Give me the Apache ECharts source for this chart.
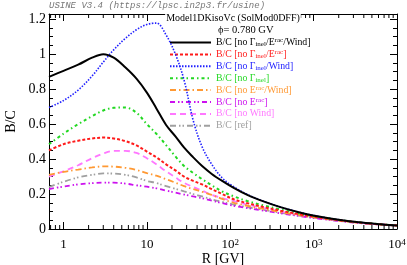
<!DOCTYPE html>
<html><head><meta charset="utf-8">
<script src="https://cdn.jsdelivr.net/npm/echarts@6/dist/echarts.min.js"></script>
<style>html,body{margin:0;padding:0;background:#fff}#c{width:407px;height:265px}</style>
</head><body><div id="c"></div>
<script>
// Rigidity R [GV]
const rigidity = [0.67, 1, 1.5, 2.2, 3, 4, 5.5, 7.5, 10, 13, 17, 22, 28, 36, 46, 60, 80, 110, 160, 250, 400, 700, 1200, 2000, 3500, 6000, 10000];
// B/C ratios
const bcNoInelRacWind = [0.87, 0.905, 0.94, 0.98, 1.0, 0.98, 0.925, 0.86, 0.78, 0.69, 0.595, 0.53, 0.465, 0.41, 0.36, 0.315, 0.275, 0.235, 0.195, 0.158, 0.125, 0.093, 0.07, 0.053, 0.038, 0.028, 0.02];
const bcNoInelRac = [0.45, 0.485, 0.505, 0.518, 0.523, 0.518, 0.503, 0.478, 0.443, 0.41, 0.37, 0.335, 0.30, 0.275, 0.255, 0.228, 0.2, 0.17, 0.148, 0.126, 0.105, 0.083, 0.065, 0.05, 0.037, 0.027, 0.02];
const bcNoInelWind = [0.695, 0.735, 0.795, 0.875, 0.955, 1.025, 1.09, 1.14, 1.17, 1.178, 1.11, 1.0, 0.85, 0.62, 0.47, 0.37, 0.292, 0.242, 0.198, 0.159, 0.126, 0.094, 0.07, 0.053, 0.038, 0.028, 0.02];
const bcNoInel = [0.485, 0.545, 0.60, 0.645, 0.678, 0.693, 0.695, 0.665, 0.60, 0.545, 0.48, 0.415, 0.36, 0.32, 0.285, 0.25, 0.215, 0.187, 0.16, 0.135, 0.112, 0.087, 0.068, 0.052, 0.038, 0.028, 0.02];
const bcNoRacWind = [0.31, 0.327, 0.34, 0.352, 0.358, 0.357, 0.35, 0.338, 0.32, 0.305, 0.285, 0.265, 0.245, 0.228, 0.213, 0.195, 0.172, 0.15, 0.133, 0.115, 0.097, 0.078, 0.062, 0.048, 0.036, 0.027, 0.02];
const bcNoRac = [0.228, 0.243, 0.255, 0.262, 0.265, 0.265, 0.26, 0.25, 0.242, 0.233, 0.22, 0.208, 0.197, 0.186, 0.176, 0.162, 0.148, 0.133, 0.12, 0.105, 0.09, 0.073, 0.058, 0.046, 0.034, 0.026, 0.019];
const bcNoWind = [0.30, 0.33, 0.365, 0.405, 0.432, 0.447, 0.447, 0.435, 0.405, 0.37, 0.33, 0.295, 0.264, 0.24, 0.22, 0.195, 0.177, 0.16, 0.14, 0.12, 0.1, 0.08, 0.063, 0.049, 0.036, 0.027, 0.02];
const bcRef = [0.24, 0.27, 0.295, 0.31, 0.318, 0.317, 0.31, 0.295, 0.275, 0.263, 0.245, 0.23, 0.215, 0.2, 0.186, 0.17, 0.155, 0.14, 0.125, 0.109, 0.093, 0.075, 0.06, 0.047, 0.035, 0.026, 0.02];

const seriesNames = ['B/C [no Γinel/Erac/Wind]', 'B/C [no Γinel/Erac]', 'B/C [no Γinel/Wind]', 'B/C [no Γinel]', 'B/C [no Erac/Wind]', 'B/C [no Erac]', 'B/C [no Wind]', 'B/C [ref]'];
const seriesRich = ['B/C [no Γ{sub|inel}/E{sup|rac}/Wind]', 'B/C [no Γ{sub|inel}/E{sup|rac}]', 'B/C [no Γ{sub|inel}/Wind]', 'B/C [no Γ{sub|inel}]', 'B/C [no E{sup|rac}/Wind]', 'B/C [no E{sup|rac}]', 'B/C [no Wind]', 'B/C [ref]'];
const seriesValues = [bcNoInelRacWind, bcNoInelRac, bcNoInelWind, bcNoInel, bcNoRacWind, bcNoRac, bcNoWind, bcRef];
const seriesColors = ['#000000', '#ff1a1a', '#2020ff', '#22d822', '#ff9933', '#cc11ee', '#ff77ff', '#a0a0a0'];
const seriesDash = ['solid', [3, 2], [1.5, 1.5], [3, 3, 1.5, 3], [6, 3, 1.5, 3], [5, 3, 1.5, 2, 1.5, 3], [6, 4], [6, 3, 1.5, 2, 1.5, 3]];
const seriesWidth = [2, 2, 1.6, 2, 1.8, 1.8, 1.8, 1.8];

const xMin = 0.67, xMax = 10000, yMin = 0, yMax = 1.23;
const FONT = 'Liberation Serif';

const minorX = [];
for (let e = -1; e < 4; e++) for (let m = 2; m <= 9; m++) { const v = m * Math.pow(10, e); if (v > xMin && v < xMax) minorX.push([v, 0]); }

function isPow10(v) { const l = Math.log10(v); return Math.abs(l - Math.round(l)) < 1e-6; }
function xLabel(v) {
  if (!isPow10(v)) return '';
  const e = Math.round(Math.log10(v));
  if (e === 0) return '1';
  if (e === 1) return '10';
  return '10{sup|' + e + '}';
}

const chart = echarts.init(document.getElementById('c'), null, { renderer: 'canvas' });

const lineSeries = seriesNames.map((n, i) => ({
  name: n, type: 'line', xAxisIndex: 0, yAxisIndex: 0,
  data: rigidity.map((r, k) => [r, seriesValues[i][k]]),
  showSymbol: false, symbol: 'none', smooth: 0.35,
  lineStyle: { color: seriesColors[i], width: seriesWidth[i], type: seriesDash[i] },
  itemStyle: { color: seriesColors[i] },
  z: 10 - i, animation: false, silent: true
}));

const legendData = seriesNames.map((n, i) => ({
  name: n,
  itemStyle: { opacity: 0, color: 'rgba(0,0,0,0)', borderWidth: 0 },
  textStyle: {
    color: seriesColors[i],
    rich: {
      sub: { color: seriesColors[i], fontSize: 7, fontFamily: FONT, verticalAlign: 'bottom' },
      sup: { color: seriesColors[i], fontSize: 7, fontFamily: FONT, verticalAlign: 'top' }
    }
  }
}));

chart.setOption({
  animation: false,
  backgroundColor: '#fff',
  grid: { left: 49, right: 10, top: 14, bottom: 36, containLabel: false, outerBoundsMode: 'none' },
  legend: {
    orient: 'vertical', left: 169, top: 37, padding: 0,
    itemWidth: 41, itemHeight: 10, itemGap: 0.9,
    selectedMode: false,
    itemStyle: { opacity: 0, color: 'rgba(0,0,0,0)', borderWidth: 0 },
    data: legendData,
    formatter: (name) => seriesRich[seriesNames.indexOf(name)],
    textStyle: { fontFamily: FONT, fontSize: 9.8, lineHeight: 11 }
  },
  xAxis: [{
    type: 'log', logBase: 10, min: xMin, max: xMax, position: 'bottom',
    name: 'R [GV]', nameLocation: 'middle', nameGap: 23, nameMoveOverlap: false,
    nameTextStyle: { fontFamily: FONT, fontSize: 14, color: '#000' },
    axisLine: { onZero: false, lineStyle: { color: '#000', width: 1 } },
    axisTick: { inside: true, length: 7, lineStyle: { color: '#000' } },
    axisLabel: { formatter: xLabel, fontFamily: FONT, fontSize: 13, color: '#000', margin: 9,
      rich: { sup: { fontFamily: FONT, fontSize: 9, color: '#000', verticalAlign: 'top' } } },
    splitLine: { show: false }
  }, {
    type: 'log', logBase: 10, min: xMin, max: xMax, position: 'top',
    axisLine: { onZero: false, lineStyle: { color: '#000', width: 1 } },
    axisTick: { inside: true, length: 7, lineStyle: { color: '#000' } },
    axisLabel: { show: false }, splitLine: { show: false }
  }],
  yAxis: [{
    type: 'value', min: yMin, max: yMax, interval: 0.2, position: 'left',
    name: 'B/C', nameLocation: 'middle', nameGap: 31, nameRotate: 90, nameMoveOverlap: false,
    nameTextStyle: { fontFamily: FONT, fontSize: 14, color: '#000' },
    axisLine: { show: true, onZero: false, lineStyle: { color: '#000', width: 1 } },
    axisTick: { show: true, inside: true, length: 7, lineStyle: { color: '#000' } },
    minorTick: { show: true, splitNumber: 4, length: 4, lineStyle: { color: '#000' } },
    axisLabel: { fontFamily: FONT, fontSize: 14, color: '#000', margin: 3,
      formatter: (v) => { const k = v / 0.2; return Math.abs(k - Math.round(k)) < 1e-6 ? String(Math.round(k * 2) / 10) : ''; } },
    splitLine: { show: false }
  }, {
    type: 'value', min: yMin, max: yMax, interval: 0.2, position: 'right',
    axisLine: { show: true, onZero: false, lineStyle: { color: '#000', width: 1 } },
    axisTick: { show: true, inside: true, length: 7, lineStyle: { color: '#000' } },
    minorTick: { show: true, splitNumber: 4, length: 4, lineStyle: { color: '#000' } },
    axisLabel: { show: false }, splitLine: { show: false }
  }],
  series: lineSeries.concat([{
    type: 'custom', xAxisIndex: 0, yAxisIndex: 0, silent: true, z: 20,
    data: minorX, clip: false,
    renderItem: (params, api) => {
      const v = api.value(0);
      const b = api.coord([v, yMin]);
      const t = api.coord([v, yMax]);
      return { type: 'group', children: [
        { type: 'line', shape: { x1: b[0], y1: b[1], x2: b[0], y2: b[1] - 4 }, style: { stroke: '#000', lineWidth: 1 } },
        { type: 'line', shape: { x1: t[0], y1: t[1], x2: t[0], y2: t[1] + 4 }, style: { stroke: '#000', lineWidth: 1 } }
      ] };
    }
  }]),
  graphic: [
    { type: 'text', left: 49, top: 1, z: 100,
      style: { text: 'USINE V3.4 (https://lpsc.in2p3.fr/usine)', fontFamily: 'Liberation Mono', fontStyle: 'italic', fontSize: 9, fill: '#777' } },
    { type: 'text', x: 233, y: 18, z: 100,
      style: { text: 'Model1DKisoVc (SolMod0DFF)', fontFamily: FONT, fontSize: 10, fill: '#000', align: 'center', verticalAlign: 'middle',
        backgroundColor: '#fff', padding: [1, 1, 1, 1] } },
    { type: 'text', x: 218, y: 30, z: 100,
      style: { text: 'ϕ= 0.780 GV', fontFamily: FONT, fontSize: 10.5, fill: '#000', verticalAlign: 'middle' } }
  ]
});
</script>
</body></html>
